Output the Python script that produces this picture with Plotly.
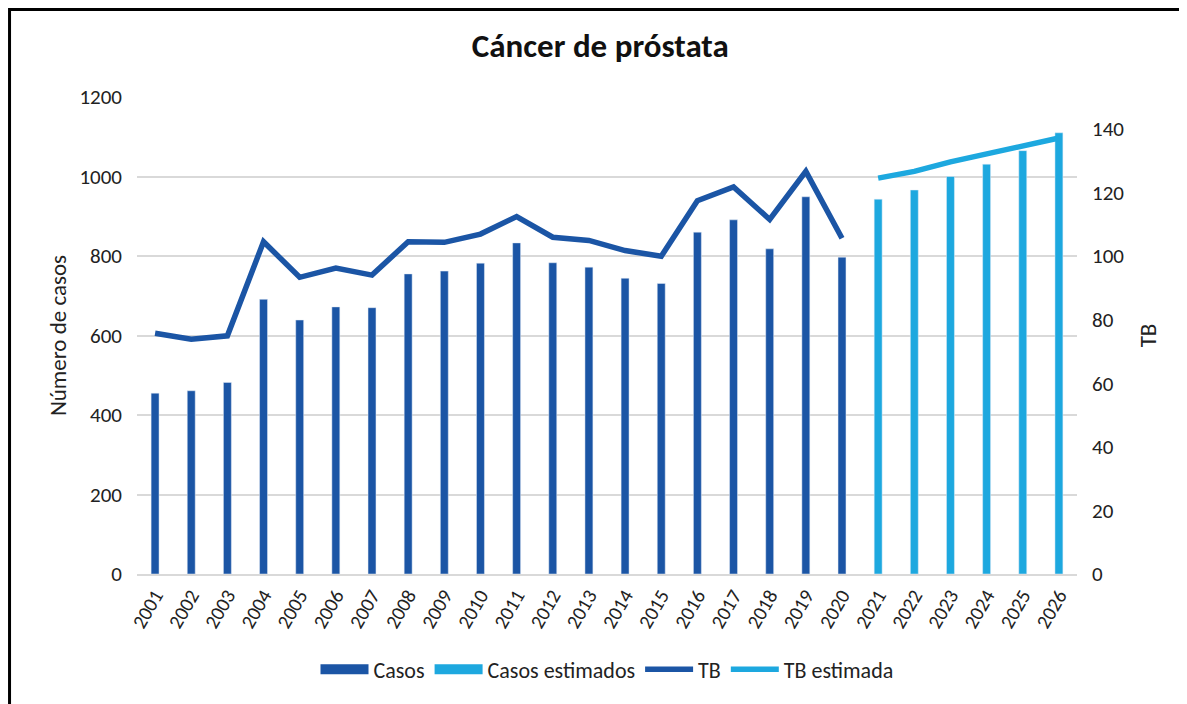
import plotly.graph_objects as go

# data
years = [str(y) for y in range(2001, 2027)]
casos_years = years[:20]
est_years = years[20:]

casos = [455, 461, 482, 691, 639, 672, 670, 755, 762, 782,
         833, 783, 772, 744, 731, 860, 891, 818, 949, 797]
casos_est = [943, 966, 1000, 1031, 1065, 1110]

tb = [75.7, 73.8, 74.9, 104.5, 93.3, 96.2, 94.0, 104.5, 104.3, 106.9,
      112.4, 105.9, 104.9, 101.7, 99.9, 117.4, 121.7, 111.5, 126.6, 105.6]
tb_est = [124.5, 126.6, 129.6, 132.2, 134.6, 137.1]

DARK = "#1B55A5"
LIGHT = "#1DA8DF"
FONT = "Carlito, 'Noto Sans', sans-serif"

fig = go.Figure()

# bars (legend shown through the wide-line entries below, like Excel's blocks)
fig.add_trace(go.Bar(x=casos_years, y=casos, name="Casos", showlegend=False,
                     marker_color=DARK, width=0.22))
fig.add_trace(go.Bar(x=est_years, y=casos_est, name="Casos estimados", showlegend=False,
                     marker_color=LIGHT, width=0.22))
fig.add_trace(go.Scatter(x=casos_years, y=tb, name="TB", mode="lines", legendrank=3,
                         line=dict(color=DARK, width=5.5), yaxis="y2"))
fig.add_trace(go.Scatter(x=est_years, y=tb_est, name="TB estimada", mode="lines",
                         legendrank=4, line=dict(color=LIGHT, width=5.5), yaxis="y2"))

# legend entries for the bar series
fig.add_trace(go.Scatter(x=[None], y=[None], name="Casos", mode="lines", legendrank=1,
                         line=dict(color=DARK, width=16)))
fig.add_trace(go.Scatter(x=[None], y=[None], name="Casos estimados", mode="lines",
                         legendrank=2, line=dict(color=LIGHT, width=16)))

fig.update_layout(
    width=1187, height=704,
    margin=dict(l=129, r=118, t=89, b=138),
    paper_bgcolor="white", plot_bgcolor="white",
    font=dict(family=FONT, size=21, color="#222"),
    barmode="overlay",
    title=dict(text="<b>Cáncer de próstata</b>", x=0.499, xanchor="center",
               y=0.947, yanchor="middle", font=dict(size=33, color="#111")),
    xaxis=dict(type="category", categoryorder="array", categoryarray=years,
               tickangle=-60, showline=True, linecolor="#d9d9d9", linewidth=2,
               showgrid=False, ticks="", tickfont=dict(size=20)),
    yaxis=dict(title=dict(text="Número de casos", font=dict(size=23), standoff=6),
               range=[0, 1200], dtick=200, showgrid=True, gridcolor="#d9d9d9",
               gridwidth=2, zeroline=False, ticks="", ticklabelstandoff=14),
    yaxis2=dict(title=dict(text="TB", font=dict(size=23), standoff=16),
                overlaying="y", side="right", range=[0, 150],
                tickvals=[0, 20, 40, 60, 80, 100, 120, 140], showgrid=False,
                zeroline=False, ticks="", ticklabelstandoff=14),
    legend=dict(orientation="h", x=0.5, xanchor="center", y=-0.2, yanchor="middle",
                font=dict(size=22), itemwidth=48, traceorder="normal"),
    shapes=[dict(type="rect", xref="paper", yref="paper",
                 x0=-0.1356, x1=1.3, y0=-0.5, y1=1.1834,
                 line=dict(color="black", width=3), fillcolor="rgba(0,0,0,0)",
                 layer="below")],
)

fig.write_html("out.html")
